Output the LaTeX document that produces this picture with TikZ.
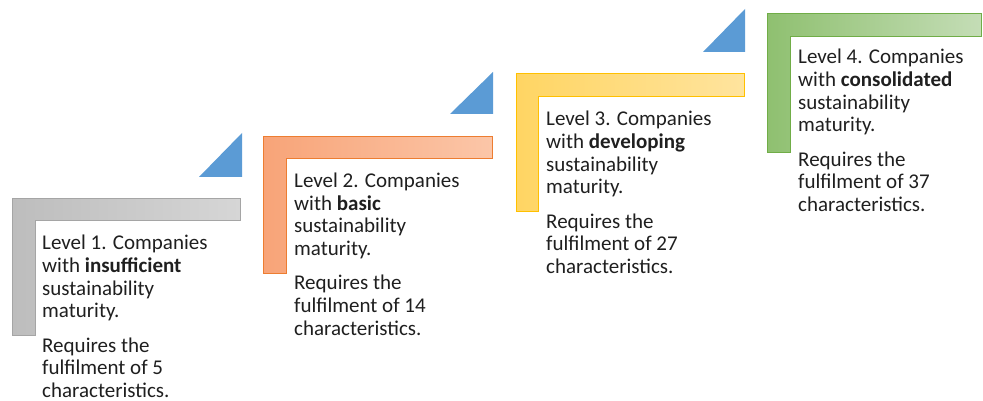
\documentclass[tikz,border=0pt]{standalone}
\usepackage{fontspec}
\setmainfont{Carlito}

\definecolor{greyedge}{HTML}{A5A5A5}
\definecolor{greyleft}{HTML}{BDBDBD}
\definecolor{greyright}{HTML}{D6D6D6}
\definecolor{orangeedge}{HTML}{ED7D31}
\definecolor{orangeleft}{HTML}{F8A478}
\definecolor{orangeright}{HTML}{FBC6A8}
\definecolor{yellowedge}{HTML}{FFC000}
\definecolor{yellowleft}{HTML}{FFD563}
\definecolor{yellowright}{HTML}{FFE49E}
\definecolor{greenedge}{HTML}{70AD47}
\definecolor{greenleft}{HTML}{8FC070}
\definecolor{greenright}{HTML}{C4DDB6}
\definecolor{riserblue}{HTML}{5B9BD5}

\tikzstyle{stair} = [draw, line width=1pt]
\tikzstyle{riser} = [fill=riserblue, draw=none]
% anchored on the baseline of the last line
\tikzstyle{level} = [anchor=base west, align=left, inner sep=0pt, text depth=0pt, text=black!88, font=\fontsize{21}{22.7}\selectfont]

\begin{document}
\begin{tikzpicture}[x=1pt, y=-1pt]
  \useasboundingbox (0,0) rectangle (983,401);

  % level 1
  \draw [stair, draw=greyedge, left color=greyleft, right color=greyright] (12,198) -- (240,198) -- (240,220) -- (35,220) -- (35,335) -- (12,335) -- cycle;
  \fill [riser] (199,177) -- (242,177) -- (242,133) -- cycle;
  \node (Level 1) [level] at (42,397.5) {Level 1. Companies\\with \textbf{insufficient}\\sustainability\\maturity.\\[11.5pt]Requires the\\fulfilment of 5\\characteristics.};

  % level 2
  \draw [stair, draw=orangeedge, left color=orangeleft, right color=orangeright] (263,137) -- (492,137) -- (492,159) -- (286,159) -- (286,273) -- (263,273) -- cycle;
  \fill [riser] (450,114) -- (493,114) -- (493,72) -- cycle;
  \node (Level 2) [level] at (294,335) {Level 2. Companies\\with \textbf{basic}\\sustainability\\maturity.\\[11.5pt]Requires the\\fulfilment of 14\\characteristics.};

  % level 3
  \draw [stair, draw=yellowedge, left color=yellowleft, right color=yellowright] (516,74) -- (744,74) -- (744,97) -- (538,97) -- (538,211) -- (516,211) -- cycle;
  \fill [riser] (703,52) -- (745,52) -- (745,9) -- cycle;
  \node (Level 3) [level] at (546,273.5) {Level 3. Companies\\with \textbf{developing}\\sustainability\\maturity.\\[11.5pt]Requires the\\fulfilment of 27\\characteristics.};

  % level 4
  \draw [stair, draw=greenedge, left color=greenleft, right color=greenright] (767,14) -- (981,14) -- (981,37) -- (790,37) -- (790,153) -- (767,153) -- cycle;
  \node (Level 4) [level] at (798,211.5) {Level 4. Companies\\with \textbf{consolidated}\\sustainability\\maturity.\\[11.5pt]Requires the\\fulfilment of 37\\characteristics.};
\end{tikzpicture}
\end{document}
